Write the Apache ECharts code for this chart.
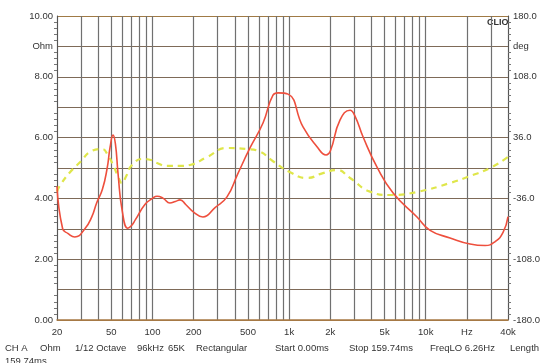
<!DOCTYPE html>
<html><head><meta charset="utf-8">
<script src="https://cdn.jsdelivr.net/npm/echarts@6/dist/echarts.min.js"></script>
<style>html,body{margin:0;padding:0;background:#fff}#c{width:547px;height:363px}</style>
</head><body><div id="c"></div>
<script>
// Impedance curve (Hz, Ohm)
const impFreq = [20,22,24,27,32,36,39,43,46.6,49,51.4,53.5,56,60,66,70,75,88,100,108,120,134,147,159,175,200,234,287,351,420,517,644,762,830,982,1264,1600,1864,2000,2360,2792,3040,3480,4400,5770,8630,10760,15060,21100,27200,32200,36800,40000];
const impOhm  = [4.4,3.0,2.85,2.73,3.0,3.4,3.85,4.3,5.0,5.7,6.08,5.8,4.8,3.6,3.02,3.1,3.3,3.8,4.0,4.07,4.0,3.85,3.9,3.95,3.8,3.55,3.39,3.7,4.05,4.8,5.66,6.48,7.4,7.47,7.43,6.35,5.7,5.43,5.55,6.58,6.9,6.7,6.02,5.03,4.18,3.39,2.95,2.7,2.5,2.45,2.58,2.88,3.4];
// Phase curve (Hz, deg)
const phFreq = [20,21,24.9,30,34.9,42.7,47.2,52,56,59.8,64,70.8,85,100,108,128,160,188,251,351,492,600,762,1016,1352,1770,2240,2792,3910,5480,8630,15060,21100,29600,40000];
const phDeg  = [-28,-21,-5,8,19,22.5,15,2,-10,-18,-10,3.6,10.7,9,6,2.4,2.5,3.6,13,23.7,22.5,20,8,-5,-11.8,-6,-2.4,-11.8,-28,-32,-28.4,-17.8,-9.5,0,13];
// Axis ticks
const xGridFreqs = [20,30,40,50,60,70,80,90,100,200,300,400,500,600,700,800,900,1000,2000,3000,4000,5000,6000,7000,8000,9000,10000,20000,30000,40000];
const xLabelFreqs = [20,50,100,200,500,1000,2000,5000,10000,20000,40000];
const xLabelText  = ['20','50','100','200','500','1k','2k','5k','10k','Hz','40k'];
const leftLabels = {10:'10.00',9:'Ohm',8:'8.00',6:'6.00',4:'4.00',2:'2.00',0:'0.00'};
const rightLabels = {180:'180.0',144:'deg',108:'108.0',36:'36.0','-36':'-36.0','-108':'-108.0','-180':'-180.0'};
const infoItems = [['CH A',5],['Ohm',40],['1/12 Octave',75],['96kHz',137],['65K',168],['Rectangular',196],['Start 0.00ms',275],['Stop 159.74ms',349],['FreqLO 6.26Hz',430],['Length',510]];

const lg = v => Math.log10(v);
const impData = impFreq.map((f,i)=>[lg(f), impOhm[i]]);
const phData = phFreq.map((f,i)=>[lg(f), phDeg[i]]);
const font = 'Liberation Sans, Arial, sans-serif';

const chart = echarts.init(document.getElementById('c'), null, {renderer:'canvas'});
chart.setOption({
  animation:false,
  backgroundColor:'#fff',
  grid:{left:57,right:39,top:16,bottom:43,containLabel:false},
  xAxis:{
    type:'value', min:lg(20), max:lg(40000),
    axisLine:{show:true,lineStyle:{color:'#a87a45',width:1.5}},
    axisTick:{show:false, customValues:xGridFreqs.map(lg)},
    splitLine:{show:true,lineStyle:{color:'#707070',width:1.2}},
    axisLabel:{customValues:xLabelFreqs.map(lg), margin:7, color:'#333', fontSize:9.5, fontFamily:font,
      formatter:v=>{const i=xLabelFreqs.findIndex(f=>Math.abs(lg(f)-v)<1e-6);return i>=0?xLabelText[i]:'';}}
  },
  yAxis:[{
    type:'value', min:0, max:10, interval:1, position:'left',
    axisLine:{show:true,lineStyle:{color:'#555',width:1}},
    axisTick:{show:false},
    minorTick:{show:true,splitNumber:5,length:3,lineStyle:{color:'#777'}},
    splitLine:{show:true,lineStyle:{color:['#a07a45','#7e6a58','#7e6a58','#7e6a58','#7e6a58','#7e6a58','#7e6a58','#7e6a58','#7e6a58','#7e6a58','#a07a45'],width:1.2}},
    axisLabel:{margin:4,color:'#333',fontSize:9.5,fontFamily:font,formatter:v=>leftLabels[Math.round(v)]||''}
  },{
    type:'value', min:-180, max:180, interval:36, position:'right',
    axisLine:{show:true,lineStyle:{color:'#555',width:1}},
    axisTick:{show:false},
    minorTick:{show:true,splitNumber:5,length:3,lineStyle:{color:'#777'}},
    splitLine:{show:false},
    axisLabel:{margin:5,color:'#333',fontSize:9.5,fontFamily:font,formatter:v=>rightLabels[String(Math.round(v))]||''}
  }],
  series:[{
    type:'line', yAxisIndex:1, data:phData, smooth:0.5, showSymbol:false,
    lineStyle:{color:'#dfe64a',width:2.2,type:[6,5]}, z:3
  },{
    type:'line', yAxisIndex:0, data:impData, smooth:0.5, showSymbol:false,
    lineStyle:{color:'#ee4f3d',width:1.6}, z:4
  }],
  graphic:[
    {type:'text',left:487,top:18,style:{text:'CLIO',font:'bold 9px '+font,fill:'#333'}},
    ...infoItems.map(([t,x])=>({type:'text',left:x,top:343,style:{text:t,font:'9.5px '+font,fill:'#333'}})),
    {type:'text',left:5,top:356,style:{text:'159.74ms',font:'9.5px '+font,fill:'#333'}}
  ]
});
</script></body></html>
